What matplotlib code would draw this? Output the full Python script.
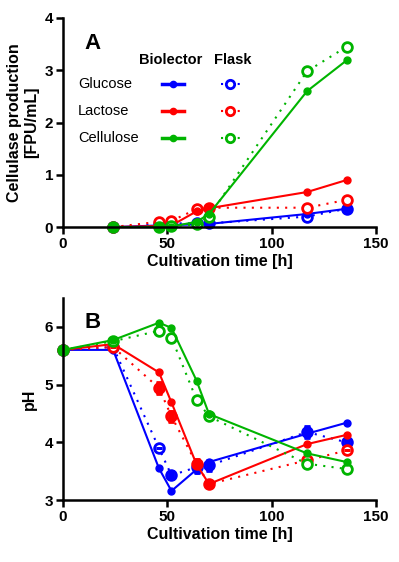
import matplotlib
matplotlib.use("Agg")
import matplotlib.pyplot as plt

plt.rcParams['font.family'] = ['Liberation Sans', 'DejaVu Sans']

# panel A: cellulase production [FPU/mL]
time_a = [24, 46, 52, 64, 70, 117, 136]
glc_bio_a = [0.0, 0.03, 0.04, 0.05, 0.06, 0.25, 0.35]
glc_fla_a = [0.0, 0.05, 0.07, 0.07, 0.07, 0.20, 0.35]
lac_bio_a = [0.0, 0.02, 0.03, 0.30, 0.36, 0.67, 0.90]
lac_fla_a = [0.0, 0.10, 0.12, 0.34, 0.37, 0.37, 0.52]
cel_bio_a = [0.0, 0.0, 0.01, 0.10, 0.25, 2.60, 3.19]
cel_fla_a = [0.0, 0.01, 0.02, 0.05, 0.20, 2.98, 3.45]

# panel B: pH
time_b = [0, 24, 46, 52, 64, 70, 117, 136]
glc_bio_b = [5.6, 5.6, 3.55, 3.16, 3.53, 3.66, 4.15, 4.34]
glc_fla_b = [5.6, 5.65, 3.90, 3.43, 3.57, 3.60, 4.18, 4.00]
glc_fla_err = [0, 0, 0, 0.07, 0.10, 0.10, 0.11, 0.12]
lac_bio_b = [5.6, 5.70, 5.21, 4.69, 3.62, 3.28, 3.97, 4.13]
lac_fla_b = [5.6, 5.65, 4.94, 4.45, 3.63, 3.28, 3.69, 3.86]
lac_fla_err = [0, 0, 0.10, 0.09, 0.08, 0, 0, 0]
cel_bio_b = [5.6, 5.77, 6.07, 5.98, 5.07, 4.49, 3.81, 3.66]
cel_fla_b = [5.6, 5.75, 5.93, 5.81, 4.74, 4.45, 3.63, 3.54]

blue, red, green = '#0000FF', '#FF0000', '#00B400'
names = ['Glucose', 'Lactose', 'Cellulose']
colors = [blue, red, green]

fig = plt.figure(figsize=(3.99, 5.62), dpi=100)
ax1 = fig.add_axes([0.158, 0.596, 0.784, 0.372])
ax2 = fig.add_axes([0.158, 0.110, 0.784, 0.360])


def style(ax):
    for s in ['top', 'right']:
        ax.spines[s].set_visible(False)
    for s in ['left', 'bottom']:
        ax.spines[s].set_linewidth(1.8)
    ax.tick_params(width=1.8, length=5, labelsize=11, pad=2)
    for lab in ax.get_xticklabels() + ax.get_yticklabels():
        lab.set_fontweight('bold')
    ax.set_xlim(0, 150)
    ax.set_xticks([0, 50, 100, 150])
    ax.set_xlabel('Cultivation time [h]', fontsize=11.5, fontweight='bold', labelpad=2)


bio_kw = dict(lw=1.5, marker='o', ms=5, clip_on=False)
fla_kw = dict(lw=1.5, ls=(0, (1, 3)), marker='o', ms=7, mfc='white', mew=2, clip_on=False)

# panel A
for c, b, f in zip(colors, [glc_bio_a, lac_bio_a, cel_bio_a], [glc_fla_a, lac_fla_a, cel_fla_a]):
    ax1.plot(time_a, f, color=c, **fla_kw)
    ax1.plot(time_a, b, color=c, **bio_kw)
ax1.set_ylim(0, 4)
ax1.set_yticks([0, 1, 2, 3, 4])
ax1.set_ylabel('Cellulase production\n[FPU/mL]', fontsize=11.5, fontweight='bold', labelpad=4)
style(ax1)
ax1.text(0.093, 0.876, 'A', transform=ax1.transAxes, fontsize=16, fontweight='bold',
         ha='center', va='center')

# legend drawn by hand
ax1.text(0.345, 0.80, 'Biolector', transform=ax1.transAxes, fontsize=10.5, fontweight='bold',
         ha='center', va='center')
ax1.text(0.542, 0.80, 'Flask', transform=ax1.transAxes, fontsize=10.5, fontweight='bold',
         ha='center', va='center')
for i, (n, c) in enumerate(zip(names, colors)):
    yy = 0.684 - i * 0.129
    ax1.text(0.048, yy, n, transform=ax1.transAxes, fontsize=10.5, ha='left', va='center')
    ax1.plot([0.316, 0.387], [yy, yy], transform=ax1.transAxes, color=c, lw=2.5, clip_on=False)
    ax1.plot([0.351], [yy], transform=ax1.transAxes, color=c, marker='o', ms=4.5, clip_on=False)
    ax1.plot([0.505, 0.565], [yy, yy], transform=ax1.transAxes, color=c, lw=1.5,
             ls=(0, (1, 3)), clip_on=False)
    ax1.plot([0.535], [yy], transform=ax1.transAxes, color=c, marker='o', ms=6, mfc='white',
             mew=2, clip_on=False)

# panel B
for c, b, f, e in zip(colors, [glc_bio_b, lac_bio_b, cel_bio_b], [glc_fla_b, lac_fla_b, cel_fla_b],
                      [glc_fla_err, lac_fla_err, None]):
    ax2.plot(time_b, f, color=c, **fla_kw)
    if e is not None:
        eb = ax2.errorbar(time_b, f, yerr=e, fmt='none', ecolor=c, elinewidth=5, capsize=2.5,
                          capthick=2, clip_on=False)
        for coll in eb.lines[2]:
            coll.set_capstyle('butt')
    ax2.plot(time_b, b, color=c, **bio_kw)
ax2.set_ylim(3, 6.5)
ax2.set_yticks([3, 4, 5, 6])
ax2.set_ylabel('pH', fontsize=11.5, fontweight='bold', labelpad=6)
style(ax2)
ax2.text(0.093, 0.88, 'B', transform=ax2.transAxes, fontsize=16, fontweight='bold',
         ha='center', va='center')

fig.savefig('out.png', dpi=100)
